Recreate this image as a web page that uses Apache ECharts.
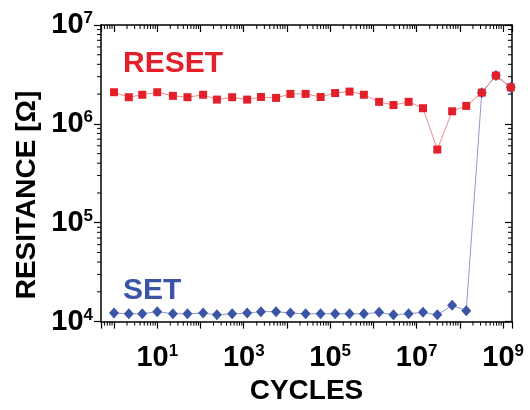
<!DOCTYPE html>
<html>
<head>
<meta charset="utf-8">
<script src="https://cdn.jsdelivr.net/npm/echarts@6/dist/echarts.min.js"></script>
<style>html,body{margin:0;background:#fff}</style>
</head>
<body>
<div id="main" style="width:530px;height:410px"></div>
<script>
// cycles (x)
var cycles = [1, 2.2, 4.5, 10, 23, 50, 115, 240, 540, 1.2e3, 2.5e3, 5.6e3, 1.2e4, 2.7e4, 6e4,
              1.3e5, 2.8e5, 6e5, 1.35e6, 2.9e6, 6.5e6, 1.4e7, 3e7, 6.6e7, 1.4e8, 3.2e8, 6.8e8, 1.5e9];
// resistance in ohm
var resetVals = [2.09e6, 1.86e6, 1.97e6, 2.09e6, 1.92e6, 1.86e6, 1.97e6, 1.76e6, 1.86e6, 1.76e6,
                 1.87e6, 1.83e6, 2.01e6, 2.01e6, 1.87e6, 2.05e6, 2.12e6, 1.97e6, 1.67e6, 1.55e6,
                 1.67e6, 1.44e6, 5.5e5, 1.34e6, 1.52e6, 2.07e6, 3.08e6, 2.34e6];
var setVals = [1.22e4, 1.2e4, 1.2e4, 1.26e4, 1.2e4, 1.2e4, 1.22e4, 1.17e4, 1.2e4, 1.22e4,
               1.26e4, 1.26e4, 1.22e4, 1.2e4, 1.2e4, 1.2e4, 1.2e4, 1.2e4, 1.24e4, 1.17e4,
               1.2e4, 1.24e4, 1.17e4, 1.46e4, 1.29e4, 2.07e6, 3.08e6, 2.34e6];
var xMin = 0.5, xMax = 1.6e9, yMin = 1e4, yMax = 1e7;

var F = '"Liberation Sans", Arial, sans-serif';
var RED = '#e3202a', BLUE = '#3a55a6';

// minor tick positions (2..9 x 10^k)
var xMinor = [], yMinor = [];
for (var k = -1; k <= 9; k++) {
    for (var m = 2; m <= 9; m++) {
        var v = m * Math.pow(10, k);
        if (v > xMin && v < xMax) xMinor.push([v, yMin]);
        if (v > yMin && v < yMax) yMinor.push([xMin, v]);
    }
}

var myChart = echarts.init(document.getElementById('main'));

function pow10(v, odd) {
    var e = Math.log10(v), r = Math.round(e);
    if (Math.abs(e - r) > 1e-6) return '';
    if (odd && Math.abs(r % 2) !== 1) return '';
    return '{b|10}{s|' + r + '}';
}
var richLab = {
    b: {fontSize: 29, fontWeight: 'bold', fontFamily: F, color: '#000', lineHeight: 30},
    s: {fontSize: 17, fontWeight: 'bold', fontFamily: F, color: '#000', verticalAlign: 'top', lineHeight: 30}
};
var lineStyleAx = {color: '#000', width: 1.5};

function xTicks(params, api) {
    var v = api.value(0);
    var b = api.coord([v, yMin]), t = api.coord([v, yMax]);
    return {type: 'group', children: [
        {type: 'line', shape: {x1: b[0], y1: b[1], x2: b[0], y2: b[1] + 4}, style: {stroke: '#000', lineWidth: 1}},
        {type: 'line', shape: {x1: t[0], y1: t[1], x2: t[0], y2: t[1] + 4}, style: {stroke: '#000', lineWidth: 1}}
    ]};
}
function yTicks(params, api) {
    var v = api.value(1);
    var l = api.coord([xMin, v]), r = api.coord([xMax, v]);
    return {type: 'group', children: [
        {type: 'line', shape: {x1: l[0] - 4, y1: l[1], x2: l[0], y2: l[1]}, style: {stroke: '#000', lineWidth: 1}},
        {type: 'line', shape: {x1: r[0] - 4, y1: r[1], x2: r[0], y2: r[1]}, style: {stroke: '#000', lineWidth: 1}}
    ]};
}

var option = {
    backgroundColor: '#fff',
    animation: false,
    grid: {left: 101, right: 18, top: 25, bottom: 76},
    xAxis: [{
        type: 'log', min: xMin, max: xMax,
        name: 'CYCLES', nameLocation: 'middle', nameGap: 48,
        nameTextStyle: {fontSize: 28, fontWeight: 'bold', fontFamily: F, color: '#000'},
        axisLine: {show: true, lineStyle: lineStyleAx},
        axisTick: {show: true, length: 7, lineStyle: {color: '#000', width: 1.2}},
        axisLabel: {margin: 21, formatter: function (v) { return pow10(v, true); }, rich: richLab},
        splitLine: {show: false}
    }, {
        type: 'log', min: xMin, max: xMax, position: 'top',
        axisLine: {show: true, lineStyle: lineStyleAx},
        axisTick: {show: true, inside: true, length: 7, lineStyle: {color: '#000', width: 1.2}},
        axisLabel: {show: false}, splitLine: {show: false}
    }],
    yAxis: [{
        type: 'log', min: yMin, max: yMax,
        axisLine: {show: true, lineStyle: lineStyleAx},
        axisTick: {show: true, length: 7, lineStyle: {color: '#000', width: 1.2}},
        axisLabel: {margin: 8, formatter: function (v) { return pow10(v, false); }, rich: richLab},
        splitLine: {show: false}
    }, {
        type: 'log', min: yMin, max: yMax, position: 'right',
        axisLine: {show: true, lineStyle: lineStyleAx},
        axisTick: {show: true, inside: true, length: 7, lineStyle: {color: '#000', width: 1.2}},
        axisLabel: {show: false}, splitLine: {show: false}
    }],
    graphic: [
        {type: 'text', left: 123, top: 49, style: {text: 'RESET', fill: RED, font: 'bold 30px ' + F}},
        {type: 'text', left: 123, top: 276, style: {text: 'SET', fill: BLUE, font: 'bold 30px ' + F}},
        {type: 'text', x: 27, y: 195, rotation: Math.PI / 2,
         style: {text: 'RESITANCE [Ω]', fill: '#000', font: 'bold 28px ' + F, align: 'center', verticalAlign: 'middle'}}
    ],
    series: [
        {type: 'custom', renderItem: xTicks, data: xMinor, clip: false, silent: true},
        {type: 'custom', renderItem: yTicks, data: yMinor, clip: false, silent: true},
        {
            name: 'SET', type: 'line', z: 3,
            data: cycles.map(function (c, i) { return [c, setVals[i]]; }),
            symbol: 'diamond', symbolSize: [10, 11],
            itemStyle: {color: BLUE},
            lineStyle: {color: '#8a9ad0', width: 1}
        },
        {
            name: 'RESET', type: 'line', z: 4,
            data: cycles.map(function (c, i) { return [c, resetVals[i]]; }),
            symbol: 'rect', symbolSize: 8,
            itemStyle: {color: RED},
            lineStyle: {color: '#f08a8a', width: 1}
        }
    ]
};
myChart.setOption(option);
</script>
</body>
</html>
